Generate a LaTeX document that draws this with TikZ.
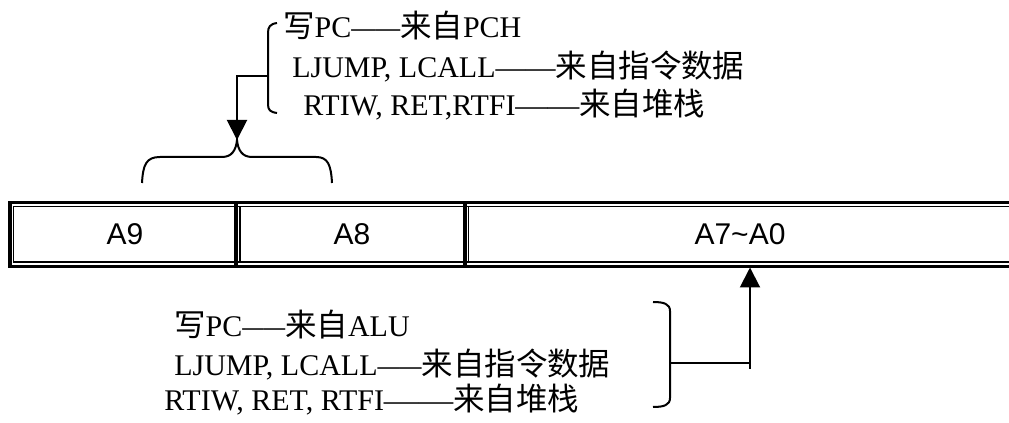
\documentclass[tikz,border=0pt]{standalone}
\usepackage{fontspec}
\usepackage{graphicx}
\setmainfont{Liberation Serif}
\newfontfamily\cjk{Noto Sans CJK SC}
\newfontfamily\arialf{Liberation Sans}
\usetikzlibrary{arrows.meta}
\newcommand\zh[1]{{\cjk\fontsize{23.6}{26}\selectfont #1}}
\newcommand\dashx[1]{\resizebox{#1}{\height}{——}}
\tikzset{
  ln/.style={line width=1.5pt},
  thickb/.style={line width=2.4pt},
  thinb/.style={line width=1.2pt},
  txt/.style={inner sep=0pt, anchor=base west, font=\fontsize{22.5}{26}\selectfont},
  cell/.style={inner sep=0pt, font=\arialf\fontsize{22.5}{26}\selectfont},
  tip/.style={-{Triangle[length=15pt,width=15pt]}}
}
\begin{document}
\begin{tikzpicture}[x=0.75pt,y=-0.75pt]
\useasboundingbox (0,0) rectangle (1009,423);
% register frame
\draw[thickb] (1012,202.5) -- (10,202.5) -- (10,266.5) -- (1012,266.5);
\draw[thinb] (1012,206.5) -- (13.5,206.5) -- (13.5,262) -- (1012,262);
\draw[thickb] (236,202.5) -- (236,266.5);
\draw[thinb] (240,206.5) -- (240,262);
\draw[thickb] (465,202.5) -- (465,266.5);
\draw[thinb] (468.5,206.5) -- (468.5,262);
\node[cell] (a9) at (125,234) {A9};
\node[cell] (a8) at (352,234) {A8};
\node[cell] (a70) at (740,234) {A7\char`~A0};
\coordinate (regb) at (750,267.5);
% top annotation
\node[txt] (t1) at (283,38) {\zh{写}PC\dashx{36.5pt}\zh{来自}PCH};
\node[txt] (t2) at (292,78) {LJUMP, LCALL\dashx{45pt}\zh{来自指令数据}};
\node[txt] (t3) at (303,116) {RTIW, RET,RTFI\dashx{48pt}\zh{来自堆栈}};
\coordinate (tb) at (268,76);
\draw[ln] (277,23) .. controls (270,24) and (268,27) .. (268,33) -- (268,104) .. controls (268,110) and (270,112) .. (277,113);
\coordinate (cusp) at (237,140);
\draw[ln] (142,183) .. controls (143,165) and (146,157) .. (160,157) -- (222,157) .. controls (232,157) and (236,150) .. (cusp) .. controls (238,150) and (242,157) .. (252,157) -- (316,157) .. controls (328,157) and (331,165) .. (332,183);
\draw[ln, tip] (tb) -- (cusp |- tb) -- (cusp);
% bottom annotation
\node[txt] (b1) at (174,337) {\zh{写}PC\dashx{32pt}\zh{来自}ALU};
\node[txt] (b2) at (174,376) {LJUMP, LCALL\dashx{33pt}\zh{来自指令数据}};
\node[txt] (b3) at (164,411) {RTIW, RET, RTFI\dashx{52pt}\zh{来自堆栈}};
\draw[ln] (653,302) .. controls (664,302) and (670,304) .. (670,311) -- (670,398) .. controls (670,405) and (664,407) .. (653,407);
\coordinate (bb) at (670,363);
\coordinate (low) at (750,369);
\draw[ln] (bb) -- (low |- bb);
\draw[ln, tip] (low) -- (regb);
\end{tikzpicture}
\end{document}
